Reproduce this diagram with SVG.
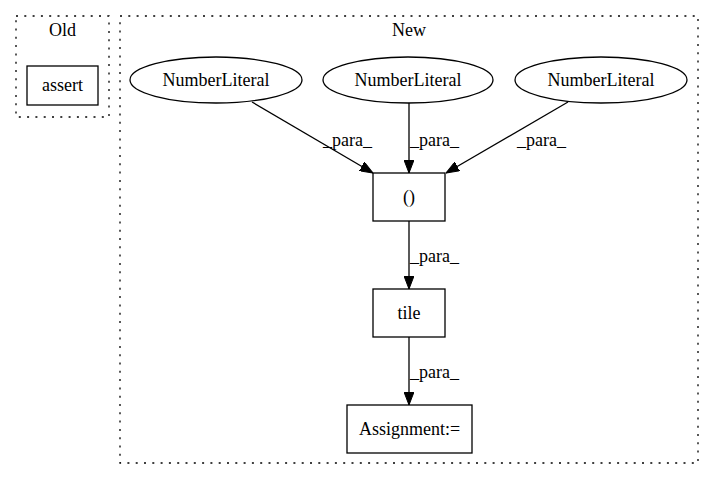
<svg xmlns="http://www.w3.org/2000/svg" width="715" height="480" viewBox="0 0 715 480">
<defs>
<style>
text{font-family:"Liberation Serif","Times New Roman",serif;font-size:18px;fill:#000}
.cl{fill:none;stroke:#000;stroke-dasharray:2,6.3;stroke-width:1.3}
.n{fill:none;stroke:#000;stroke-width:1.3}
.e{fill:none;stroke:#000;stroke-width:1.3}
</style>
<marker id="ah" markerWidth="13" markerHeight="10" refX="13" refY="5" orient="auto" markerUnits="userSpaceOnUse">
<polygon points="0,0 13,5 0,10" fill="#000" stroke="#000"/>
</marker>
</defs>
<rect width="715" height="480" fill="#fff"/>
<g id="cluster_old">
<rect class="cl" x="16" y="16" width="93" height="101"/>
<text x="62.5" y="36" text-anchor="middle">Old</text>
</g>
<g id="cluster_new">
<rect class="cl" x="120" y="16" width="578" height="447"/>
<text x="409" y="36" text-anchor="middle">New</text>
</g>
<g id="assert">
<rect class="n" x="27" y="66" width="71" height="39"/>
<text x="62.5" y="91" text-anchor="middle">assert</text>
</g>
<g id="nl1">
<ellipse class="n" cx="216" cy="80" rx="86" ry="23"/>
<text x="216" y="86" text-anchor="middle">NumberLiteral</text>
</g>
<g id="nl2">
<ellipse class="n" cx="408" cy="80" rx="85" ry="23"/>
<text x="408" y="86" text-anchor="middle">NumberLiteral</text>
</g>
<g id="nl3">
<ellipse class="n" cx="601" cy="80" rx="86" ry="23"/>
<text x="601" y="86" text-anchor="middle">NumberLiteral</text>
</g>
<g id="tuple">
<rect class="n" x="373" y="173" width="72" height="48"/>
<text x="409" y="203" text-anchor="middle">()</text>
</g>
<g id="tile">
<rect class="n" x="373" y="289" width="72" height="48"/>
<text x="409" y="319" text-anchor="middle">tile</text>
</g>
<g id="assign">
<rect class="n" x="347" y="405" width="125" height="48"/>
<text x="409.5" y="435" text-anchor="middle">Assignment:=</text>
</g>
<g id="edges">
<line class="e" x1="252" y1="102" x2="373" y2="173" marker-end="url(#ah)"/>
<text x="323" y="146">_para_</text>
<line class="e" x1="409" y1="103" x2="409" y2="173" marker-end="url(#ah)"/>
<text x="410" y="146">_para_</text>
<line class="e" x1="568" y1="102" x2="446" y2="173" marker-end="url(#ah)"/>
<text x="517" y="146">_para_</text>
<line class="e" x1="409" y1="221" x2="409" y2="289" marker-end="url(#ah)"/>
<text x="410" y="262">_para_</text>
<line class="e" x1="409" y1="337" x2="409" y2="405" marker-end="url(#ah)"/>
<text x="410" y="378">_para_</text>
</g>
</svg>
